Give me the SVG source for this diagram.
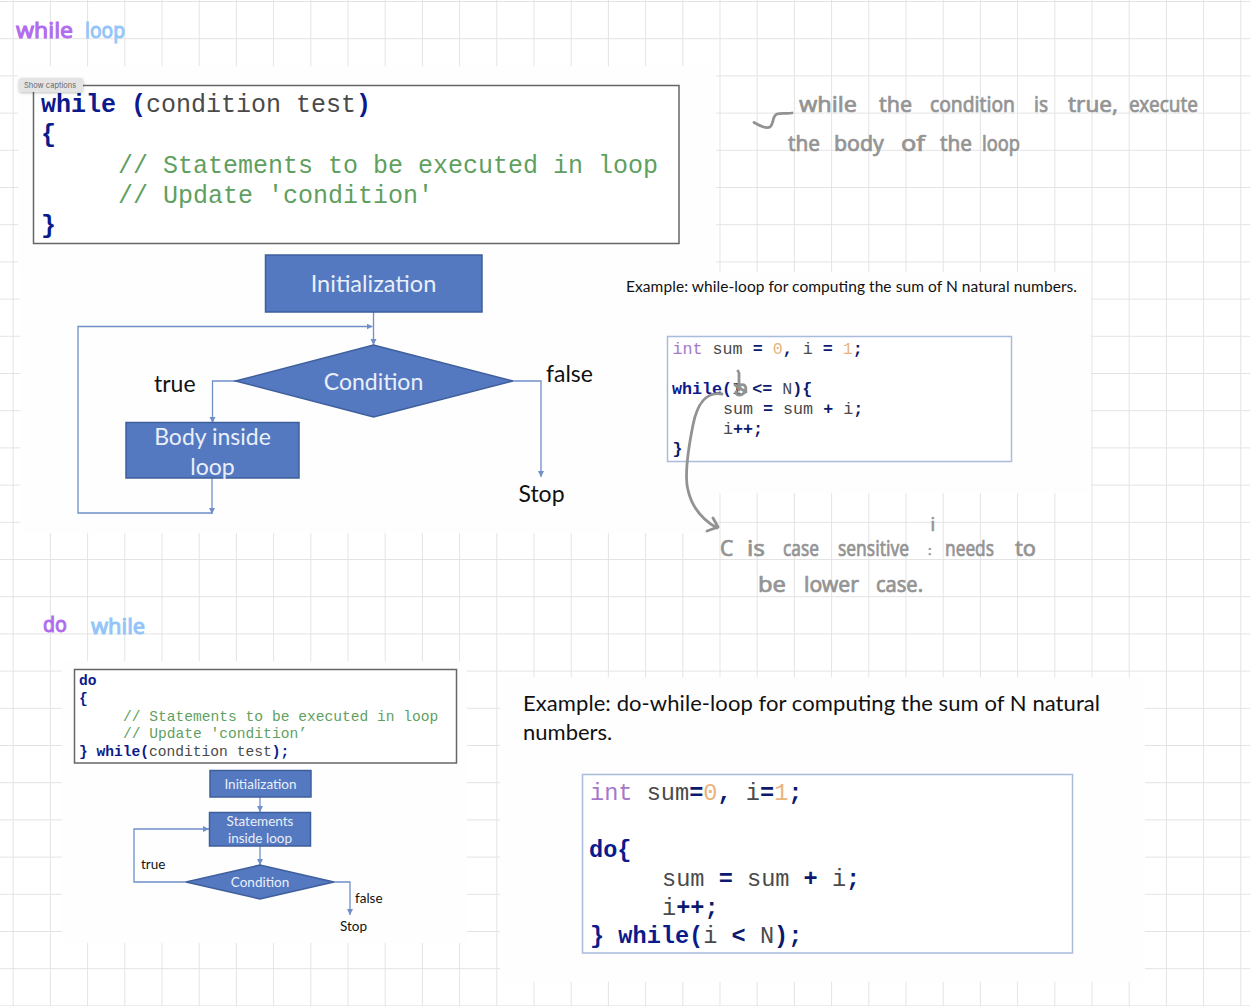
<svg xmlns="http://www.w3.org/2000/svg" width="1250" height="1006" viewBox="0 0 1250 1006">
<style>
.grid{stroke:#e3e3e3;stroke-width:1;fill:none}
.patch{fill:#fefefe}
.mono{font-family:"Liberation Mono",monospace;white-space:pre}
.kw{fill:#0b1a8c;font-weight:700}
.op{fill:#0b1a6c;font-weight:700}
.id{fill:#4a4a4a}
.ty{fill:#a578cc}
.num{fill:#e8b47c}
.cm{fill:#5f9f5f}
.box{fill:#fff;stroke:#666;stroke-width:1.5}
.bbox{fill:#fff;stroke:#a9bcdc;stroke-width:1.5}
.node{fill:#5479c0;stroke:#3f5f9c;stroke-width:1.5}
.nt{font-family:Lato,"Open Sans",sans-serif;fill:#e9effa;text-anchor:middle}
.bt{font-family:Lato,"Open Sans",sans-serif;fill:#111}
.conn{fill:none;stroke:#6f8fc8;stroke-width:1.3}
.hw{font-family:"Noto Sans",sans-serif;font-size:21px;fill:#949494;stroke:#949494;stroke-width:.7;stroke-linejoin:round}
.ink{fill:none;stroke:#929292;stroke-width:2.8;stroke-linecap:round;stroke-linejoin:round}
.pur{font-family:"Noto Sans",sans-serif;font-size:22px;fill:#b16bee;stroke:#b16bee;stroke-width:1}
.blu{font-family:"Noto Sans",sans-serif;font-size:22px;fill:#93c5f8;stroke:#93c5f8;stroke-width:1}
</style>
<defs>
<marker id="a" markerUnits="userSpaceOnUse" markerWidth="7" markerHeight="7" refX="6" refY="3" orient="auto"><path d="M0 0L6 3L0 6z" fill="#6f8fc8"/></marker>
<filter id="sh" x="-20%" y="-40%" width="140%" height="200%"><feDropShadow dx="0" dy="1" stdDeviation="1.5" flood-opacity=".25"/></filter>
<pattern id="gridp" x="12.7" y="1" width="37.2" height="37.2" patternUnits="userSpaceOnUse"><path class="grid" d="M.5 0V37.2M0 .5H37.2"/></pattern>
</defs>
<rect width="1250" height="1006" fill="#fff"/>
<rect width="1250" height="1006" fill="url(#gridp)"/>
<g id="patches">
<path class="patch" d="M18 66H716V272H1091V493H716V533H20V272H18z"/>
<rect class="patch" x="62" y="661" width="405" height="282"/>
<rect class="patch" x="500" y="677" width="645" height="305"/>
</g>

<g id="title-while"><text class="pur" x="16" y="38" textLength="57" lengthAdjust="spacingAndGlyphs">while</text><text class="blu" x="85" y="38" textLength="40" lengthAdjust="spacingAndGlyphs">loop</text></g>

<g id="code-while">
<rect class="box" x="33.5" y="85.5" width="645.5" height="158"/>
<g class="mono" font-size="25">
<text x="41" y="112"><tspan class="kw">while</tspan><tspan class="id"> </tspan><tspan class="kw">(</tspan><tspan class="id">condition test</tspan><tspan class="kw">)</tspan></text>
<text class="kw" x="41" y="142">{</text>
<text class="cm" x="118" y="173">// Statements to be executed in loop</text>
<text class="cm" x="118" y="203">// Update 'condition'</text>
<text class="kw" x="41" y="233">}</text>
</g>
</g>
<g id="captions-badge"><rect x="19" y="78" width="64" height="14" rx="2.5" fill="#e4e4e4" filter="url(#sh)"/><text x="24" y="87.5" font-family="Inter,sans-serif" font-size="7.5" fill="#666">Show captions</text></g>

<g id="note-while">
<path class="ink" d="M754 122.5C760 126 766 129 770 127C774 124 772 116 777 114C781 112.500 787 114 792 113"/>
<text class="hw" x="799" y="112" textLength="58" lengthAdjust="spacingAndGlyphs">while</text>
<text class="hw" x="879" y="112" textLength="33" lengthAdjust="spacingAndGlyphs">the</text>
<text class="hw" x="930" y="112" textLength="85" lengthAdjust="spacingAndGlyphs">condition</text>
<text class="hw" x="1034" y="112" textLength="14" lengthAdjust="spacingAndGlyphs">is</text>
<text class="hw" x="1068" y="112" textLength="50" lengthAdjust="spacingAndGlyphs">true,</text>
<text class="hw" x="1129" y="112" textLength="69" lengthAdjust="spacingAndGlyphs">execute</text>
<text class="hw" x="788" y="151" textLength="32" lengthAdjust="spacingAndGlyphs">the</text>
<text class="hw" x="834" y="151" textLength="50" lengthAdjust="spacingAndGlyphs">body</text>
<text class="hw" x="901" y="151" textLength="24" lengthAdjust="spacingAndGlyphs">of</text>
<text class="hw" x="940" y="151" textLength="32" lengthAdjust="spacingAndGlyphs">the</text>
<text class="hw" x="982" y="151" textLength="38" lengthAdjust="spacingAndGlyphs">loop</text>
</g>

<g id="connectors-while">
<path class="conn" d="M373.500 312V345" marker-end="url(#a)"/>
<path class="conn" d="M212 478V514" marker-end="url(#a)"/>
<path class="conn" d="M212 513H78V326.500H372.500" marker-end="url(#a)"/>
<path class="conn" d="M236 381H212.500V423" marker-end="url(#a)"/>
<path class="conn" d="M513 381H541V477" marker-end="url(#a)"/>
</g>
<g id="n-init"><rect class="node" x="265.500" y="255" width="216.500" height="57"/><text class="nt" x="373.500" y="292" font-size="23.500">Initialization</text></g>
<g id="n-cond"><path class="node" d="M235.500 381L373.500 345L513 381L373.500 417z"/><text class="nt" x="373.500" y="390" font-size="23">Condition</text></g>
<g id="n-body"><rect class="node" x="126" y="422.500" width="173" height="55.500"/><text class="nt" x="212.500" y="444.500" font-size="23">Body inside</text><text class="nt" x="212.500" y="475" font-size="23">loop</text></g>
<g id="l-true"><text class="bt" x="154" y="392" font-size="23">true</text></g>
<g id="l-false"><text class="bt" x="546" y="382" font-size="23">false</text></g>
<g id="n-stop"><text class="bt" x="541.500" y="502" font-size="23" text-anchor="middle">Stop</text></g>

<g id="example-while">
<text class="bt" x="626" y="292" font-size="15.500" textLength="451">Example: while-loop for computing the sum of N natural numbers.</text>
<rect class="bbox" x="667.500" y="336.500" width="344" height="125"/>
<g class="mono" font-size="16.700">
<text x="672.500" y="354"><tspan class="ty">int</tspan><tspan class="id"> sum </tspan><tspan class="op">=</tspan><tspan class="id"> </tspan><tspan class="num">0</tspan><tspan class="op">,</tspan><tspan class="id"> i </tspan><tspan class="op">=</tspan><tspan class="id"> </tspan><tspan class="num">1</tspan><tspan class="op">;</tspan></text>
<text x="672" y="394"><tspan class="kw">while(</tspan><tspan class="id">I </tspan><tspan class="op">&lt;=</tspan><tspan class="id"> N</tspan><tspan class="op">){</tspan></text>
<text x="723" y="414"><tspan class="id">sum </tspan><tspan class="op">=</tspan><tspan class="id"> sum </tspan><tspan class="op">+</tspan><tspan class="id"> i</tspan><tspan class="op">;</tspan></text>
<text x="723" y="434"><tspan class="id">i</tspan><tspan class="op">++;</tspan></text>
<text class="op" x="672.500" y="454">}</text>
</g>
</g>

<g id="note-case">
<path class="ink" d="M741 385C745 383 748 389 744 393C741 396 736 396 736 392M739 373V390M735 385L746 392"/>
<circle cx="738" cy="371" r="1.500" fill="#929292"/>
<path class="ink" d="M722 394C708 392 698 400 693 425C688 450 684 475 688 490C692 508 703 520 717 528M713 518L718 527L707 531"/>
<text class="hw" x="720" y="556" textLength="14">C</text>
<text class="hw" x="747" y="556" textLength="18" lengthAdjust="spacingAndGlyphs">is</text>
<text class="hw" x="783" y="556" textLength="36" lengthAdjust="spacingAndGlyphs">case</text>
<text class="hw" x="838" y="556" textLength="71" lengthAdjust="spacingAndGlyphs">sensitive</text>
<text class="hw" x="930.500" y="531" style="font-size:18px">i</text>
<text class="hw" x="928" y="555" style="font-size:13px">:</text>
<text class="hw" x="945" y="556" textLength="49" lengthAdjust="spacingAndGlyphs">needs</text>
<text class="hw" x="1015" y="556" textLength="21" lengthAdjust="spacingAndGlyphs">to</text>
<text class="hw" x="758" y="592" textLength="28" lengthAdjust="spacingAndGlyphs">be</text>
<text class="hw" x="804" y="592" textLength="55" lengthAdjust="spacingAndGlyphs">lower</text>
<text class="hw" x="876" y="592" textLength="47" lengthAdjust="spacingAndGlyphs">case.</text>
</g>

<g id="title-do"><text class="pur" x="43" y="632" textLength="24" lengthAdjust="spacingAndGlyphs">do</text><text class="blu" x="91" y="634" textLength="54" lengthAdjust="spacingAndGlyphs">while</text></g>

<g id="code-do">
<rect class="box" x="74.500" y="669.500" width="382" height="93.500"/>
<g class="mono" font-size="14.600">
<text class="kw" x="79" y="685">do</text>
<text class="kw" x="79" y="702.500">{</text>
<text class="cm" x="123" y="720.500">// Statements to be executed in loop</text>
<text class="cm" x="123" y="738">// Update 'condition’</text>
<text x="79" y="755.500"><tspan class="kw">} while(</tspan><tspan class="id">condition test</tspan><tspan class="kw">);</tspan></text>
</g>
</g>

<g id="connectors-do">
<path class="conn" d="M260 797V812" marker-end="url(#a)"/>
<path class="conn" d="M260 846V865" marker-end="url(#a)"/>
<path class="conn" d="M186 882H134V829H209" marker-end="url(#a)"/>
<path class="conn" d="M334 882H350V915" marker-end="url(#a)"/>
</g>
<g id="d-init"><rect class="node" x="210" y="770.500" width="101" height="26.500"/><text class="nt" x="260.500" y="788.500" font-size="13.500">Initialization</text></g>
<g id="d-body"><rect class="node" x="209.500" y="812.500" width="101" height="33.500"/><text class="nt" x="260" y="825.500" font-size="13.500">Statements</text><text class="nt" x="260" y="843" font-size="13.500">inside loop</text></g>
<g id="d-cond"><path class="node" d="M186 882L260 865L334 882L260 899z"/><text class="nt" x="260" y="887" font-size="13.500">Condition</text></g>
<g id="d-true"><text class="bt" x="141" y="868.500" font-size="13.500">true</text></g>
<g id="d-false"><text class="bt" x="355" y="903" font-size="13.500">false</text></g>
<g id="d-stop"><text class="bt" x="353.500" y="931" font-size="13.500" text-anchor="middle">Stop</text></g>

<g id="example-do">
<text class="bt" x="523" y="711" font-size="22" textLength="577">Example: do-while-loop for computing the sum of N natural</text>
<text class="bt" x="523" y="740" font-size="22">numbers.</text>
<rect class="bbox" x="582.500" y="774.500" width="490" height="178.500"/>
<g class="mono" font-size="23.600">
<text x="590" y="800"><tspan class="ty">int</tspan><tspan class="id"> sum</tspan><tspan class="op">=</tspan><tspan class="num">0</tspan><tspan class="op">,</tspan><tspan class="id"> i</tspan><tspan class="op">=</tspan><tspan class="num">1</tspan><tspan class="op">;</tspan></text>
<text class="kw" x="589" y="857">do{</text>
<text x="662" y="886"><tspan class="id">sum </tspan><tspan class="op">=</tspan><tspan class="id"> sum </tspan><tspan class="op">+</tspan><tspan class="id"> i</tspan><tspan class="op">;</tspan></text>
<text x="662" y="914.500"><tspan class="id">i</tspan><tspan class="op">++;</tspan></text>
<text x="590" y="943"><tspan class="kw">} while(</tspan><tspan class="id">i </tspan><tspan class="op">&lt;</tspan><tspan class="id"> N</tspan><tspan class="op">);</tspan></text>
</g>
</g>
</svg>
